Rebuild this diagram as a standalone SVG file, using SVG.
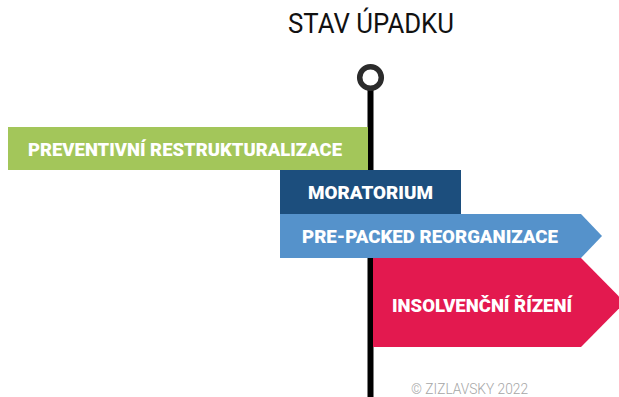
<svg xmlns="http://www.w3.org/2000/svg" width="619" height="397" viewBox="0 0 619 397">
  <style>
    .lbl { font-family: Roboto, "Liberation Sans", sans-serif; font-weight: 900; font-size: 19px; fill: #ffffff; }
    .title { font-family: Roboto, "Liberation Sans", sans-serif; font-weight: 400; font-size: 28px; fill: #111111; }
    .copy { font-family: Roboto, "Liberation Sans", sans-serif; font-weight: 300; font-size: 14px; fill: #a6a6a6; }
  </style>
  <rect width="619" height="397" fill="#ffffff"/>
  <g id="title">
    <text class="title" x="288" y="33" textLength="166" lengthAdjust="spacingAndGlyphs">STAV ÚPADKU</text>
  </g>
  <g id="connectors">
    <rect x="367.5" y="88" width="6" height="309" fill="#000000"/>
    <circle cx="370.5" cy="77.5" r="10.8" fill="#ffffff" stroke="#2b2b2b" stroke-width="5.5"/>
  </g>
  <g id="preventivni">
    <rect x="8" y="127" width="360" height="43" fill="#a3c65a"/>
    <text class="lbl" x="28" y="156" textLength="314" lengthAdjust="spacingAndGlyphs">PREVENTIVNÍ RESTRUKTURALIZACE</text>
  </g>
  <g id="moratorium">
    <rect x="280" y="170" width="181" height="44" fill="#1c4e7d"/>
    <text class="lbl" x="308" y="199" textLength="125" lengthAdjust="spacingAndGlyphs">MORATORIUM</text>
  </g>
  <g id="prepacked">
    <polygon points="280,214 581,214 602,236 581,258 280,258" fill="#5592cb"/>
    <text class="lbl" x="302" y="243" textLength="256" lengthAdjust="spacingAndGlyphs">PRE-PACKED REORGANIZACE</text>
  </g>
  <g id="insolvencni">
    <polygon points="373,258 581,258 625,302.5 581,347 373,347" fill="#e3194f"/>
    <text class="lbl" x="392" y="312" textLength="180" lengthAdjust="spacingAndGlyphs">INSOLVENČNÍ ŘÍZENÍ</text>
  </g>
  <g id="copyright">
    <text class="copy" x="411" y="394" textLength="117" lengthAdjust="spacingAndGlyphs">© ZIZLAVSKY 2022</text>
  </g>
</svg>
